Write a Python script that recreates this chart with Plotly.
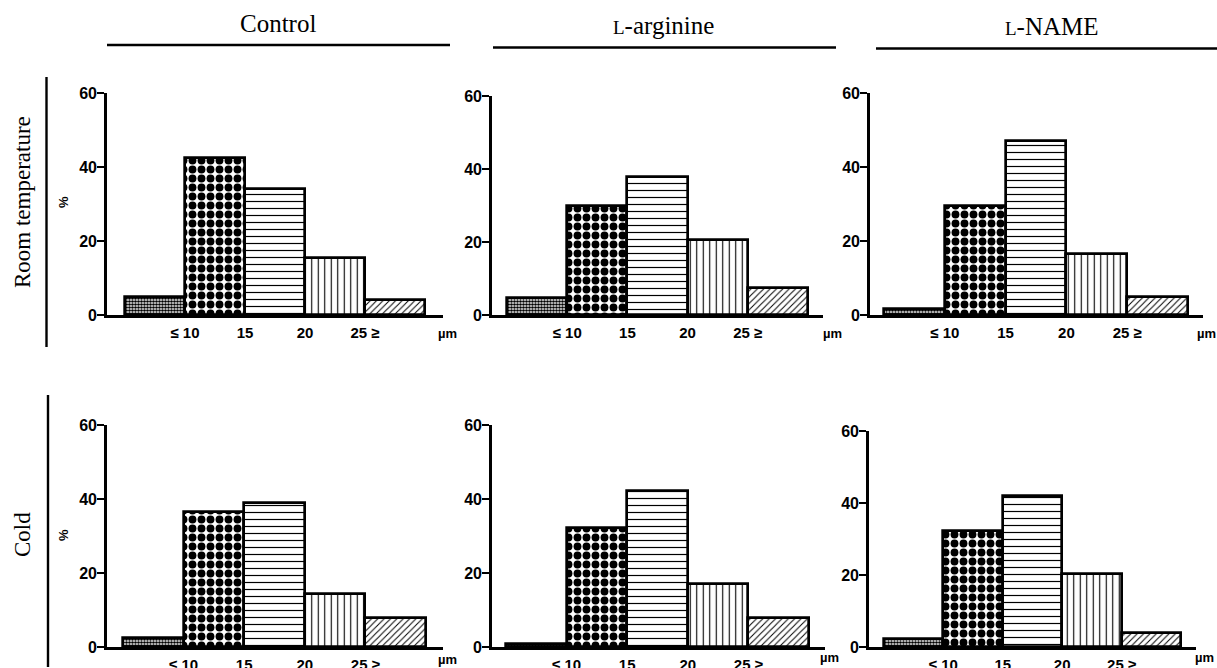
import plotly.graph_objects as go

W, H = 1217, 668

# ---------------- data ----------------
bins = ["<=10", "10-15", "15-20", "20-25", ">=25"]
tick_labels = ["≤ 10", "15", "20", "25 ≥"]
col_titles = ["Control",
              "<span style='font-size:19px'>L</span>-arginine",
              "<span style='font-size:19px'>L</span>-NAME"]
row_titles = ["Room temperature", "Cold"]

rt_control = [4.9, 42.4, 34.0, 15.4, 4.1]
rt_arginine = [4.7, 29.9, 37.8, 20.5, 7.4]
rt_lname = [1.6, 29.5, 47.0, 16.5, 4.9]
cold_control = [2.4, 36.5, 38.9, 14.3, 7.8]
cold_arginine = [0.8, 32.2, 42.1, 17.0, 7.9]
cold_lname = [2.2, 32.2, 42.0, 20.2, 3.9]

y_ticks = [0, 20, 40, 60]

series = [rt_control, rt_arginine, rt_lname, cold_control, cold_arginine, cold_lname]

# ---------------- layout geometry (pixels of the 1217x668 page) ----------------
# axis_left, bar_start, bar_w, axis_right, y_zero, y_top
geom = [
    (107, 125, 60.0, 443, 315, 93),
    (492, 507, 60.2, 823, 315, 96),
    (870, 884, 60.8, 1203, 315, 93),
    (107, 123, 60.6, 443, 647, 425),
    (492, 506, 60.6, 825, 647, 425),
    (869, 884, 59.4, 1196, 647, 431),
]


def px(x):
    return x / W


def py(y):
    return 1 - y / H


shapes_p = [".", ".", "-", "|", "/"]
sizes_p = [3, 9, 7, 6.5, 4.5]
solid_p = [0.65, 0.6, 0.17, 0.17, 0.22]

fig = go.Figure()
AX = "Liberation Sans, Arial, sans-serif"
SERIF = "Liberation Serif, Times New Roman, serif"

for i, (vals, g) in enumerate(zip(series, geom)):
    al, bs, bw, ar, y0, yt = g
    n = i + 1
    xa = "x" if n == 1 else f"x{n}"
    ya = "y" if n == 1 else f"y{n}"
    fig.add_trace(go.Bar(
        x=list(range(len(bins))), y=vals, width=1,
        xaxis=xa, yaxis=ya, showlegend=False,
        marker=dict(
            color="white",
            line=dict(color="black", width=2.7),
            pattern=dict(shape=shapes_p, size=sizes_p, solidity=solid_p,
                         fgcolor="black", fgopacity=1, bgcolor="white",
                         fillmode="overlay"),
        ),
        hoverinfo="skip",
    ))
    lo = -0.5 - (bs - al) / bw
    hi = -0.5 + (ar - bs) / bw
    xkey = "xaxis" if n == 1 else f"xaxis{n}"
    ykey = "yaxis" if n == 1 else f"yaxis{n}"
    fig.layout[xkey] = dict(
        domain=[px(al), px(ar)], range=[lo, hi], anchor=ya,
        showline=True, linecolor="black", linewidth=2.6,
        showgrid=False, zeroline=False, ticks="",
        tickvals=[0.5, 1.5, 2.5, 3.5], ticktext=tick_labels,
        tickfont=dict(family=AX, size=15, color="black", weight="bold"),
        ticklabelstandoff=2, fixedrange=True, automargin=False,
    )
    fig.layout[ykey] = dict(
        domain=[py(y0), py(yt)], range=[0, 60], anchor=xa,
        showline=True, linecolor="black", linewidth=2.6,
        showgrid=False, zeroline=False,
        ticks="outside", ticklen=7, tickwidth=2.2, tickcolor="black",
        tickvals=y_ticks, ticktext=[str(v) for v in y_ticks],
        tickfont=dict(family=AX, size=16, color="black", weight="bold"),
        ticklabelstandoff=-3, fixedrange=True, automargin=False,
    )

annotations = []
# column titles
for cx, cy, t in zip([278, 663, 1052], [24, 25, 26], col_titles):
    annotations.append(dict(x=px(cx), y=py(cy), xref="paper", yref="paper",
                            text=t, showarrow=False, xanchor="center", yanchor="middle",
                            font=dict(family=SERIF, size=25, color="black")))
# row titles and % labels
for cy, t in zip([202, 535], row_titles):
    annotations.append(dict(x=px(22), y=py(cy), xref="paper", yref="paper",
                            text=t, showarrow=False, textangle=-90,
                            xanchor="center", yanchor="middle",
                            font=dict(family=SERIF, size=23, color="black")))
    annotations.append(dict(x=px(63), y=py(cy), xref="paper", yref="paper",
                            text="%", showarrow=False, textangle=-90,
                            xanchor="center", yanchor="middle",
                            font=dict(family=AX, size=13, color="black", weight="bold")))
# unit labels
for ux, uy in [(447, 333), (832, 333), (1206, 333), (447, 659), (829, 657), (1204, 657)]:
    annotations.append(dict(x=px(ux), y=py(uy), xref="paper", yref="paper",
                            text="µm", showarrow=False, xanchor="center", yanchor="middle",
                            font=dict(family=AX, size=13, color="black", weight="bold")))

shapes = []
for x0, x1, yy in [(107, 450, 45), (493, 836, 47.5), (876, 1217, 48.5)]:
    shapes.append(dict(type="line", xref="paper", yref="paper",
                       x0=px(x0), x1=px(x1), y0=py(yy), y1=py(yy),
                       line=dict(color="black", width=2.4)))
for xx, ya0, ya1 in [(46.5, 77, 347), (48, 395, 667)]:
    shapes.append(dict(type="line", xref="paper", yref="paper",
                       x0=px(xx), x1=px(xx), y0=py(ya0), y1=py(ya1),
                       line=dict(color="black", width=2.4)))

fig.update_layout(
    width=W, height=H, autosize=False, margin=dict(l=0, r=0, t=0, b=0, pad=0),
    paper_bgcolor="white", plot_bgcolor="white",
    bargap=0, annotations=annotations, shapes=shapes,
)

post = (
    "document.documentElement.style.margin='0';"
    "document.documentElement.style.overflow='hidden';"
    "document.body.style.margin='0';"
    "document.body.style.overflow='hidden';"
    "var gd=document.getElementById('{plot_id}');"
    "Plotly.relayout(gd,{width:%d,height:%d});" % (W, H)
)

fig.write_html("out.html", config={"displayModeBar": False, "responsive": False},
               post_script=post)
